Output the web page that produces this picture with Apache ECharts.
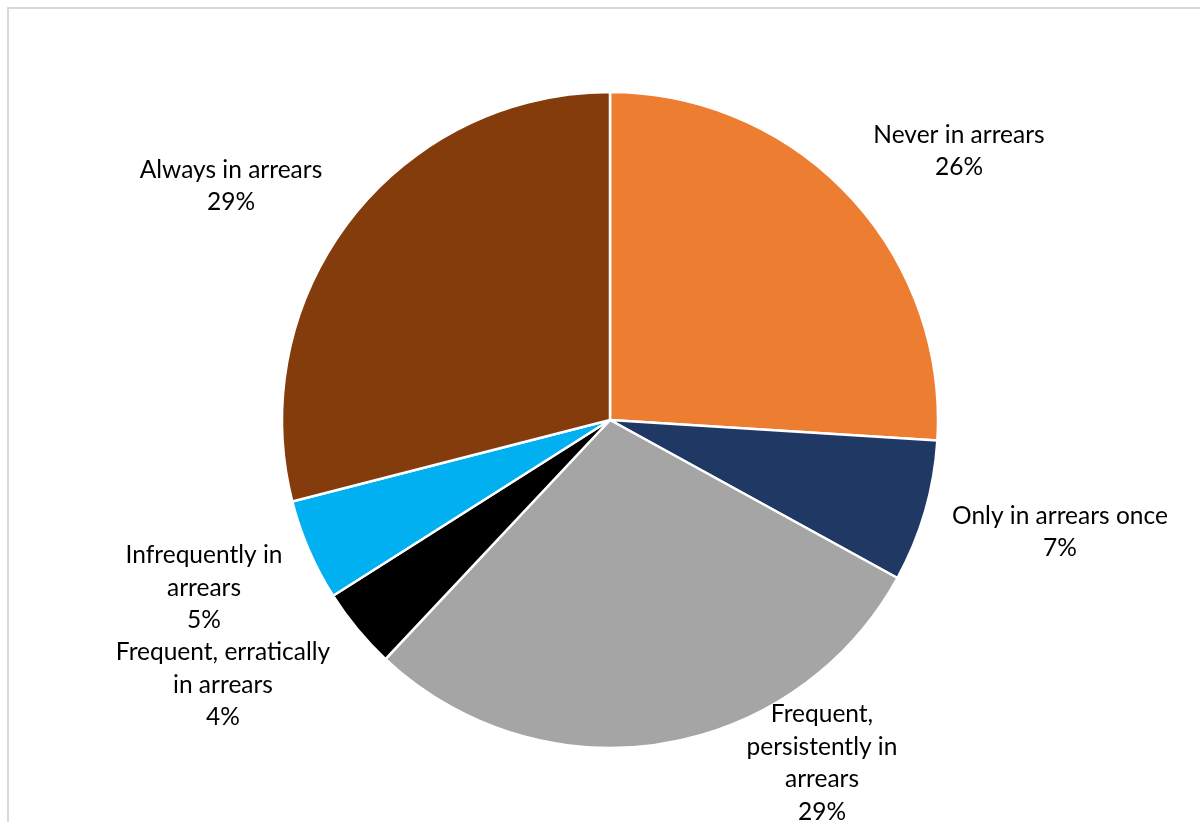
<!DOCTYPE html>
<html>
<head>
<meta charset="utf-8">
<script src="https://cdn.jsdelivr.net/npm/echarts@6/dist/echarts.min.js"></script>
<style>
  html, body { margin: 0; padding: 0; background: #ffffff; }
  #chart { width: 1200px; height: 822px; }
</style>
</head>
<body>
<div id="chart"></div>
<script>
// Arrears pattern categories (clockwise from 12 o'clock)
const categories = [
  'Never in arrears',
  'Only in arrears once',
  'Frequent,\npersistently in\narrears',
  'Frequent, erratically\nin arrears',
  'Infrequently in\narrears',
  'Always in arrears'
];
// Share of accounts, percent
const shares = [26, 7, 29, 4, 5, 29];

const colors = ['#ED7D31', '#203864', '#A5A5A5', '#000000', '#00B0F0', '#843C0C'];
// Label anchor points (centre of each text block)
const labelAnchors = [
  [959, 151], [1060, 532], [822, 763], [223, 685], [204, 588], [231, 186]
];

const chart = echarts.init(document.getElementById('chart'), null, { renderer: 'canvas' });

chart.setOption({
  backgroundColor: '#ffffff',
  animation: false,
  graphic: [{
    type: 'rect',
    shape: { x: 8, y: 8, width: 1300, height: 900 },
    style: { fill: 'none', stroke: '#d9d9d9', lineWidth: 2 },
    silent: true
  }],
  series: [{
    type: 'pie',
    center: [610, 420],
    radius: 328,
    startAngle: 90,
    clockwise: true,
    data: categories.map((name, i) => ({
      name,
      value: shares[i],
      itemStyle: { color: colors[i] }
    })),
    itemStyle: { borderColor: '#ffffff', borderWidth: 2.5 },
    label: {
      show: true,
      position: 'outside',
      formatter: p => p.name + '\n' + p.value + '%',
      fontFamily: 'Lato',
      fontSize: 24.5,
      lineHeight: 32.5,
      color: '#000000',
      align: 'center'
    },
    labelLine: { show: false },
    labelLayout: p => ({
      x: labelAnchors[p.dataIndex][0],
      y: labelAnchors[p.dataIndex][1],
      align: 'center',
      verticalAlign: 'middle'
    }),
    emphasis: { disabled: true }
  }]
});
</script>
</body>
</html>
